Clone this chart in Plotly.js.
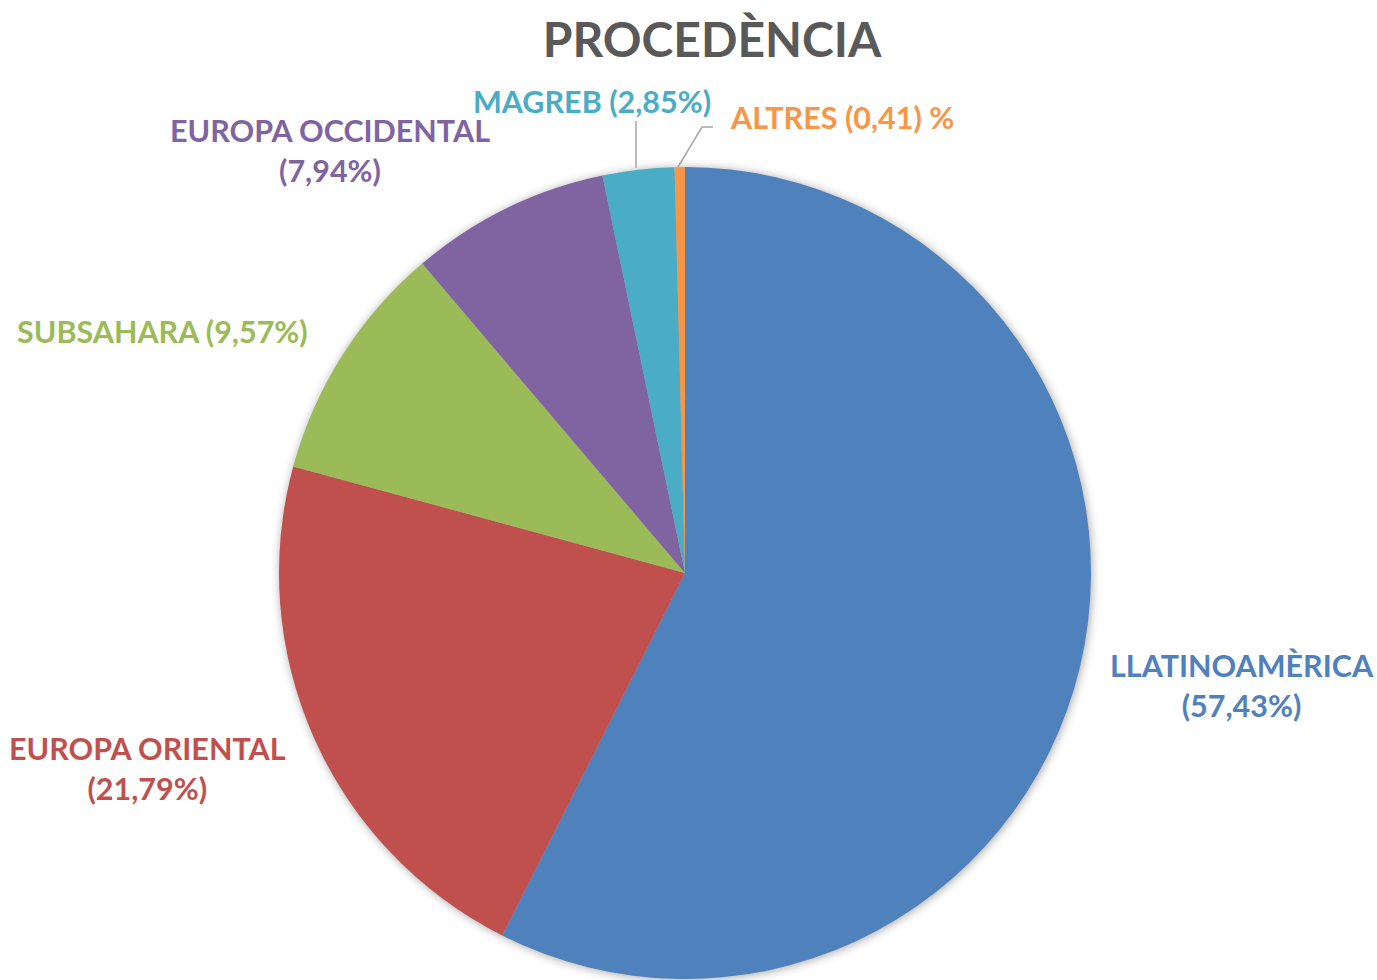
<!DOCTYPE html>
<html>
<head>
<meta charset="utf-8">
<script src="https://cdn.plot.ly/plotly-3.0.1.min.js"></script>
<style>
html,body{margin:0;padding:0;background:#fff;}
#chart{width:1377px;height:980px;}
.pielayer .trace{filter:drop-shadow(1px 1px 5px rgba(0,0,0,0.35));}
</style>
</head>
<body>
<div id="chart"></div>
<script>
const categories = ['LLATINOAMÈRICA', 'EUROPA ORIENTAL', 'SUBSAHARA', 'EUROPA OCCIDENTAL', 'MAGREB', 'ALTRES'];
const values = [57.43, 21.79, 9.57, 7.94, 2.85, 0.41];
const colors = ['#4F81BD', '#C0504D', '#9BBB59', '#8064A2', '#4BACC6', '#F79646'];
const labelSep = ['<br>', '<br>', ' ', '<br>', ' ', ' '];
const labelSuffix = ['%)', '%)', '%)', '%)', '%)', ') %'];
const titleText = 'PROCEDÈNCIA';

// label anchor positions in pixels (layout only)
const labelPos = [[1242, 685], [147, 768], [162, 331], [330, 150], [592, 101], [842, 117]];
const W = 1377, H = 980;

const FONT = 'Lato, "Open Sans", sans-serif';

const annotations = categories.map((c, i) => ({
  xref: 'paper', yref: 'paper',
  x: labelPos[i][0] / W, y: 1 - labelPos[i][1] / H,
  xanchor: 'center', yanchor: 'middle',
  text: '<b>' + c + labelSep[i] + '(' + values[i].toFixed(2).replace('.', ',') + labelSuffix[i] + '</b>',
  showarrow: false,
  align: 'center',
  font: {family: FONT, size: 30.5, color: colors[i]}
}));

const shapes = [
  {type: 'line', xref: 'paper', yref: 'paper', x0: 636/W, y0: 1-121/H, x1: 636/W, y1: 1-168/H, line: {color: '#A6A6A6', width: 1.5}},
  {type: 'path', xref: 'paper', yref: 'paper',
   path: 'M ' + (713/W) + ' ' + (1-127/H) + ' L ' + (702/W) + ' ' + (1-127/H) + ' L ' + (678/W) + ' ' + (1-167/H),
   line: {color: '#A6A6A6', width: 1.5}}
];

const trace = {
  type: 'pie',
  labels: categories,
  values: values,
  sort: false,
  direction: 'clockwise',
  rotation: 0,
  textinfo: 'none',
  hoverinfo: 'label+percent',
  marker: {colors: colors, line: {width: 0}},
  domain: {x: [279/W, 1091/W], y: [1-979/H, 1-167/H]},
  showlegend: false
};

const layout = {
  width: W, height: H,
  margin: {l: 0, r: 0, t: 0, b: 0},
  paper_bgcolor: '#fff',
  title: {text: '<b>' + titleText + '</b>', x: 712/W, xanchor: 'center', y: 1-40/H, yanchor: 'middle', yref: 'paper',
          font: {family: FONT, size: 48, color: '#595959'}},
  annotations: annotations,
  shapes: shapes,
  showlegend: false
};

Plotly.newPlot('chart', [trace], layout, {displayModeBar: false, staticPlot: true});
</script>
</body>
</html>
